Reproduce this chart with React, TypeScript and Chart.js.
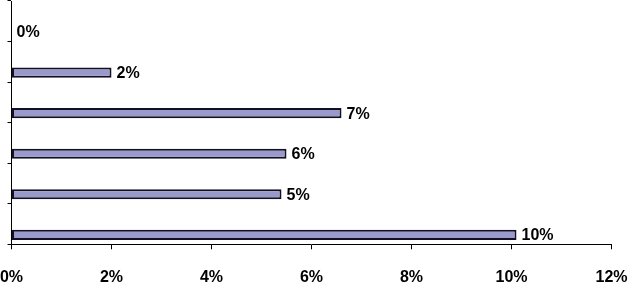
import React, { useEffect, useRef } from "react";
import { Chart, registerables } from "chart.js";

Chart.register(...registerables);

const categories: string[] = ["", "", "", "", "", ""];
const values: number[] = [0, 2.0, 6.6, 5.5, 5.4, 10.1];
const valueLabels: string[] = ["0%", "2%", "7%", "6%", "5%", "10%"];
const spacerValues: (number | null)[] = [null, null, null, null, null, null];
const xTickMin = 0;
const xTickMax = 12;
const xTickStep = 2;

const FONT = "'Liberation Sans', Arial, sans-serif";

const valueLabelPlugin = {
  id: "valueLabels",
  afterDatasetsDraw(chart: any) {
    const meta = chart.getDatasetMeta(1);
    const ctx = chart.ctx;
    ctx.save();
    ctx.font = `bold 16px ${FONT}`;
    ctx.fillStyle = "#000";
    ctx.textAlign = "left";
    ctx.textBaseline = "middle";
    meta.data.forEach((el: any, i: number) => {
      ctx.fillText(valueLabels[i], el.x + 5, el.y + 1);
    });
    ctx.restore();
  },
};

export default function App() {
  const ref = useRef<HTMLCanvasElement | null>(null);
  useEffect(() => {
    document.body.style.margin = "0";
    const chart = new Chart(ref.current!, {
      type: "bar",
      data: {
        labels: categories,
        datasets: [
          {
            label: "spacer",
            data: spacerValues as any,
            backgroundColor: "rgba(0,0,0,0)",
          },
          {
            label: "value",
            data: values,
            backgroundColor: "#9999CC",
            borderColor: "#111122",
            borderWidth: 2,
            borderSkipped: false,
          },
        ],
      },
      options: {
        indexAxis: "y",
        animation: false,
        responsive: false,
        events: [],
        categoryPercentage: 1.066,
        barPercentage: 0.47,
        layout: { padding: { top: 1, right: 0, bottom: 0, left: 0 } },
        plugins: {
          legend: { display: false },
          tooltip: { enabled: false },
        },
        scales: {
          x: {
            type: "linear",
            min: xTickMin,
            max: xTickMax,
            afterFit: (s: any) => {
              s.height = 38.7;
              s.paddingLeft = 11.5;
              s.paddingRight = 17.5;
            },
            ticks: {
              stepSize: xTickStep,
              callback: (v: any) => `${v}%`,
              color: "#000",
              font: { family: FONT, size: 16, weight: "bold" },
              padding: 19,
              maxRotation: 0,
            },
            grid: {
              display: true,
              drawOnChartArea: false,
              drawTicks: true,
              tickLength: 5,
              color: "#000",
            },
            border: { display: true, color: "#000", width: 1 },
          },
          y: {
            type: "category",
            afterFit: (s: any) => {
              s.width = 4;
            },
            ticks: { display: false },
            grid: {
              display: true,
              offset: true,
              drawOnChartArea: false,
              drawTicks: true,
              tickLength: 4,
              color: "#000",
            },
            border: { display: true, color: "#000", width: 1 },
          },
        },
      } as any,
      plugins: [valueLabelPlugin],
    });
    return () => chart.destroy();
  }, []);
  return (
    <div style={{ position: "absolute", left: 0, top: 0, width: 629, height: 283, background: "#fff" }}>
      <canvas ref={ref} width={629} height={283} />
    </div>
  );
}
